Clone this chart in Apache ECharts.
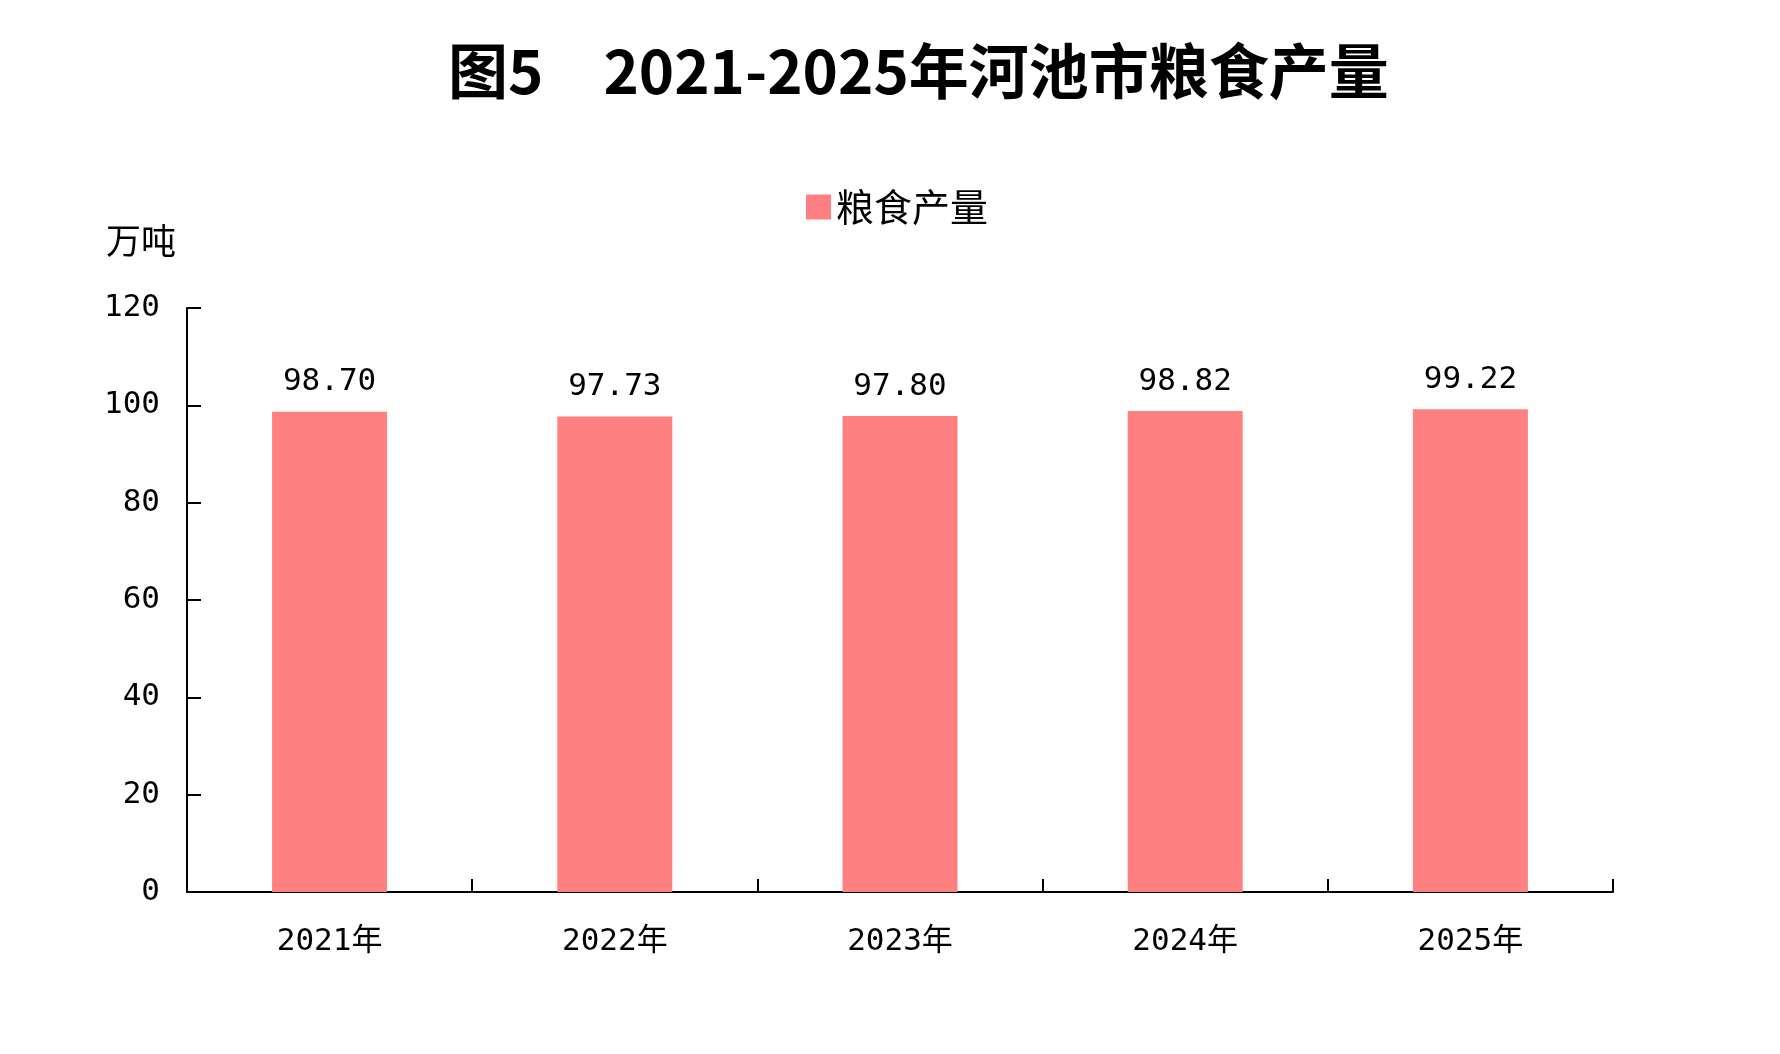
<!DOCTYPE html>
<html lang="zh-CN">
<head>
    <meta charset="UTF-8">
    <title>2021-2025年河池市粮食产量</title>
    <script src="https://cdn.jsdelivr.net/npm/echarts@6/dist/echarts.min.js"></script>
    <style>
        html, body { margin: 0; padding: 0; background: #fff; }
        #main { width: 1780px; height: 1054px; }
    </style>
</head>
<body>
<div id="main"></div>
<script type="text/javascript">
    // 数据
    var years = ['2021年', '2022年', '2023年', '2024年', '2025年'];
    var grainOutput = [98.70, 97.73, 97.80, 98.82, 99.22];
    var yTicks = { min: 0, max: 120, interval: 20 };

    var monoFont = '"DejaVu Sans Mono", "Noto Sans CJK SC", monospace';
    var cjkFont = '"Noto Sans CJK SC", sans-serif';

    var myChart = echarts.init(document.getElementById('main'));
    myChart.setOption({
        backgroundColor: '#fff',
        animation: false,
        title: {
            text: '图5\u30002021-2025年河池市粮食产量',
            left: 448,
            top: 41,
            padding: 0,
            textStyle: {
                fontFamily: cjkFont,
                fontSize: 60,
                fontWeight: 'bold',
                color: '#000'
            }
        },
        legend: {
            data: ['粮食产量'],
            left: 806,
            top: 188,
            padding: 0,
            icon: 'rect',
            itemWidth: 25,
            itemHeight: 25,
            itemGap: 20,
            textStyle: {
                fontFamily: cjkFont,
                fontSize: 38,
                color: '#000'
            }
        },
        grid: {
            left: 187,
            right: 167,
            top: 308,
            bottom: 162,
            containLabel: false
        },
        xAxis: {
            type: 'category',
            data: years,
            boundaryGap: true,
            axisLine: { show: true, lineStyle: { color: '#000', width: 2 } },
            axisTick: { show: true, inside: true, length: 13, alignWithLabel: false, interval: 0, lineStyle: { color: '#000', width: 2 } },
            axisLabel: {
                margin: 34,
                fontFamily: monoFont,
                fontSize: 31,
                color: '#000'
            }
        },
        yAxis: {
            type: 'value',
            min: yTicks.min,
            max: yTicks.max,
            interval: yTicks.interval,
            name: '万吨',
            nameLocation: 'end',
            nameGap: 50,
            nameTextStyle: {
                fontFamily: cjkFont,
                fontSize: 35,
                color: '#000',
                padding: [0, 92, 0, 0]
            },
            axisLine: { show: true, lineStyle: { color: '#000', width: 2 } },
            axisTick: { show: true, inside: true, length: 14, lineStyle: { color: '#000', width: 2 } },
            splitLine: { show: false },
            axisLabel: {
                margin: 27,
                fontFamily: monoFont,
                fontSize: 31,
                color: '#000'
            }
        },
        series: [{
            name: '粮食产量',
            type: 'bar',
            data: grainOutput,
            barWidth: 115,
            itemStyle: { color: '#FF8080' },
            label: {
                show: true,
                position: 'top',
                distance: 14,
                fontFamily: monoFont,
                fontSize: 31,
                color: '#000',
                formatter: function (p) { return p.value.toFixed(2); }
            }
        }]
    });
</script>
</body>
</html>
